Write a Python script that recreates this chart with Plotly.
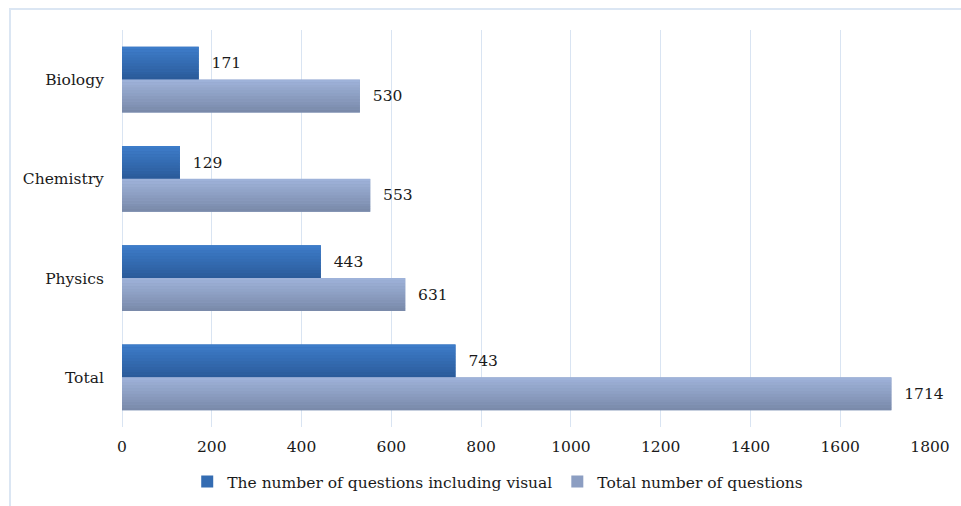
import plotly.graph_objects as go

categories = ["Total", "Physics", "Chemistry", "Biology"]
visual_counts = [743, 443, 129, 171]
total_counts = [1714, 631, 553, 530]
series_names = ["The number of questions including visual", "Total number of questions"]
x_ticks = [0, 200, 400, 600, 800, 1000, 1200, 1400, 1600, 1800]

FONT = "DejaVu Serif"
FS = 15.5
BAR_W = 0.33
N_SLICES = 12


def lerp(c1, c2, t):
    return "rgb(%d,%d,%d)" % tuple(round(a + (b - a) * t) for a, b in zip(c1, c2))


series = [
    # name, values, offset, top colour, bottom colour
    (series_names[0], visual_counts, 0.0, (62, 125, 203), (42, 90, 152)),
    (series_names[1], total_counts, -BAR_W, (160, 180, 219), (120, 136, 168)),
]

fig = go.Figure()

# base bars (legend + labels)
for name, vals, off, top, bot in series:
    fig.add_trace(go.Bar(
        x=vals, y=categories, orientation="h", name=name,
        width=BAR_W, offset=off,
        marker=dict(color=lerp(top, bot, 0.5), line=dict(width=0)),
        text=vals, texttemplate="\u00a0\u00a0%{x}", textposition="outside",
        constraintext="none", cliponaxis=False,
        textfont=dict(family=FONT, size=FS, color="#1a1a1a"),
    ))

# gradient slices
for name, vals, off, top, bot in series:
    h = BAR_W / N_SLICES
    for k in range(N_SLICES):
        t = 1 - (k + 0.5) / N_SLICES
        fig.add_trace(go.Bar(
            x=vals, y=categories, orientation="h", showlegend=False,
            width=h * 1.02, offset=off + k * h,
            marker=dict(color=lerp(top, bot, t), line=dict(width=0)),
            hoverinfo="skip",
        ))

fig.update_layout(
    width=961, height=506,
    margin=dict(l=122, r=31, t=30, b=79),
    barmode="overlay",
    paper_bgcolor="white", plot_bgcolor="white",
    font=dict(family=FONT, size=FS, color="#1a1a1a"),
    xaxis=dict(
        range=[0, 1800], tickvals=x_ticks, showgrid=True,
        gridcolor="#d9e4f2", gridwidth=1, zeroline=True, zerolinecolor="#d9e4f2",
        zerolinewidth=1, ticks="outside", ticklen=5, tickcolor="rgba(0,0,0,0)",
        showline=False, fixedrange=True, automargin=False,
    ),
    yaxis=dict(
        categoryorder="array", categoryarray=categories,
        showgrid=False, zeroline=False, ticks="outside", ticklen=14,
        tickcolor="rgba(0,0,0,0)", showline=False, automargin=False,
    ),
    legend=dict(
        orientation="h", x=0.465, xanchor="center",
        yref="container", y=1 - 482 / 506, yanchor="middle",
        font=dict(family=FONT, size=FS), itemwidth=30,
    ),
    showlegend=True,
    shapes=[dict(
        type="rect", xref="paper", yref="paper",
        x0=-0.1386, x1=1.05, y0=-0.3, y1=1.0529,
        line=dict(color="#dbe6f3", width=2), fillcolor="rgba(0,0,0,0)", layer="below",
    )],
)

fig.write_html("out.html", config={"displayModeBar": False},
               post_script="document.body.style.margin='0';")
